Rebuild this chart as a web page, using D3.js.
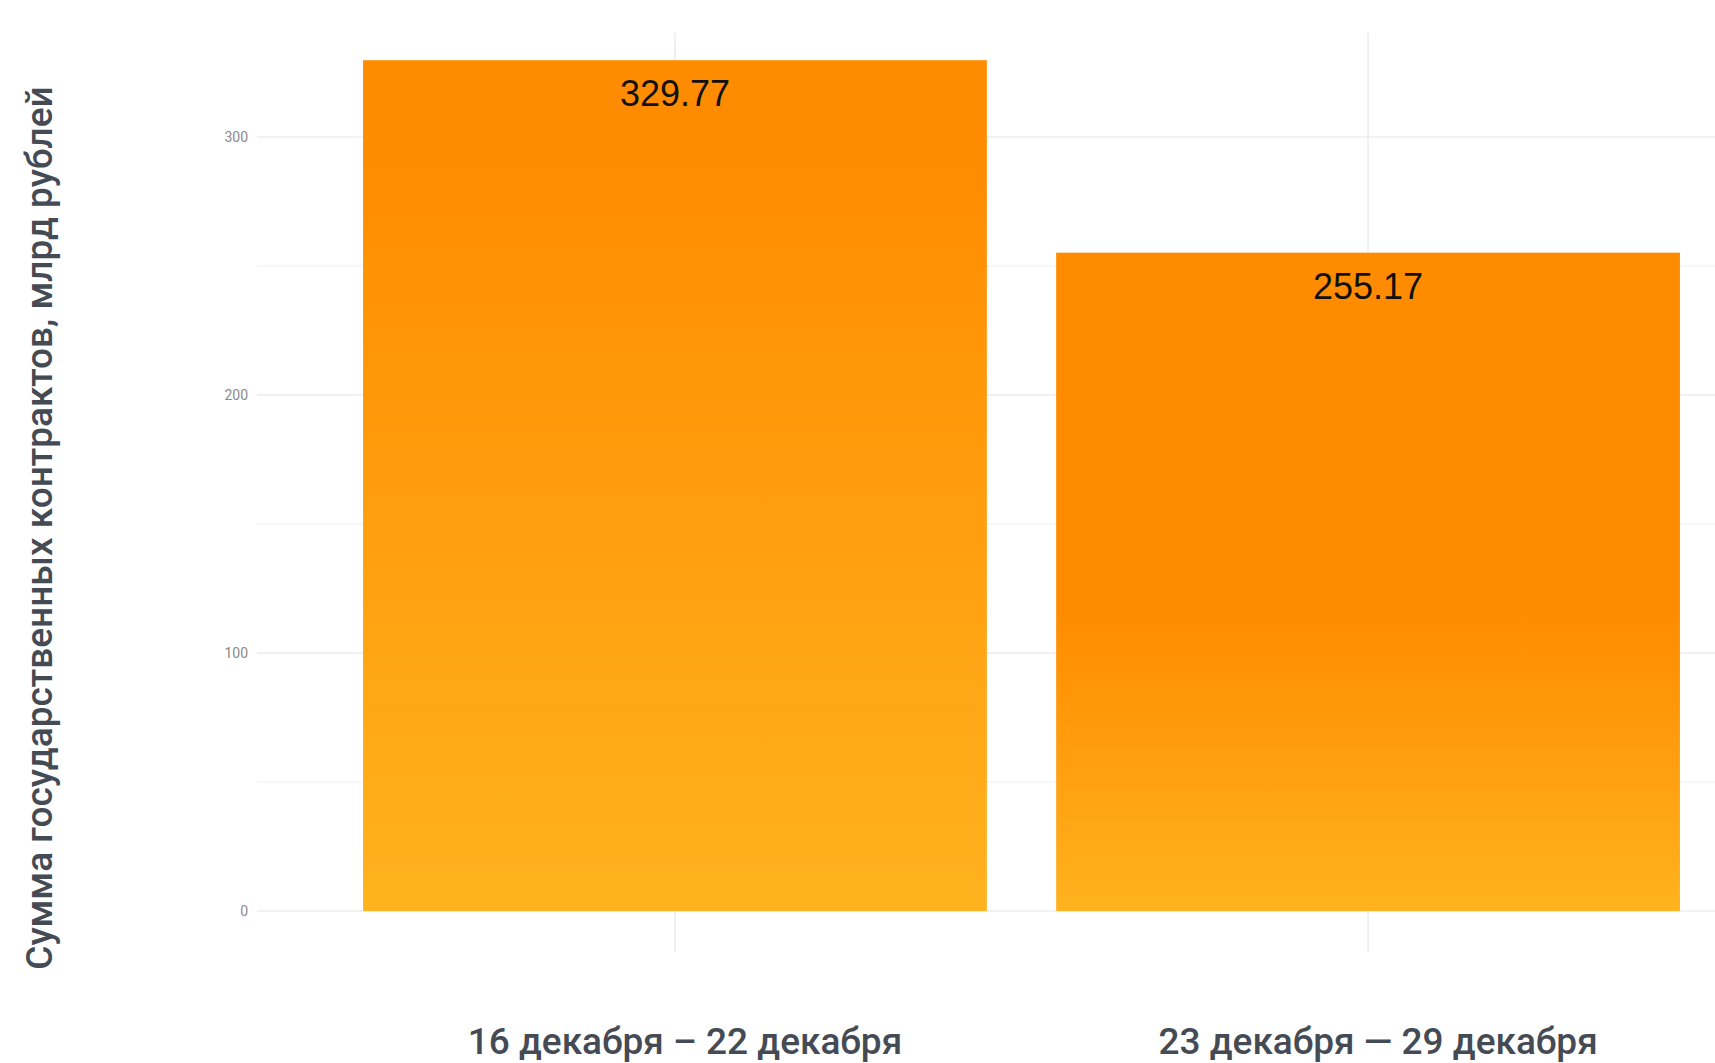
<!DOCTYPE html>
<html>
<head>
<meta charset="utf-8">
<script src="https://cdn.jsdelivr.net/npm/d3@7"></script>
<style>
  html, body { margin: 0; padding: 0; background: #fff; overflow: hidden; }
</style>
</head>
<body>
<div id="container"></div>
<script>
const categories = ["16 декабря – 22 декабря", "23 декабря — 29 декабря"];
const values = [329.77, 255.17];
const yTicks = [0, 100, 200, 300];
const yGrid = [0, 50, 100, 150, 200, 250, 300];
const yTitle = "Сумма государственных контрактов, млрд рублей";

// where the solid orange stops and the fade to yellow starts, per bar
const fadeStart = [0.12, 0.55];

const width = 1715;
const height = 1063;

const x = d3.scaleBand()
  .domain(categories)
  .range([257, 1786])
  .paddingInner(0.1)
  .paddingOuter(0.153);

const y = d3.scaleLinear()
  .domain([0, 300])
  .range([911, 137]);

const svg = d3.create("svg")
  .attr("width", width)
  .attr("height", height);

const defs = svg.append("defs");
categories.forEach((c, i) => {
  const g = defs.append("linearGradient")
    .attr("id", `grad${i}`)
    .attr("x1", 0).attr("y1", 0)
    .attr("x2", 0).attr("y2", 1);
  g.append("stop").attr("offset", 0).attr("stop-color", "#ff8c00");
  g.append("stop").attr("offset", fadeStart[i]).attr("stop-color", "#ff8c00");
  g.append("stop").attr("offset", 1).attr("stop-color", "#ffb21f");
});

// grid
svg.append("g")
  .selectAll("line")
  .data(yGrid)
  .join("line")
  .attr("x1", 257)
  .attr("x2", width)
  .attr("y1", d => y(d))
  .attr("y2", d => y(d))
  .attr("stroke", d => d % 100 === 0 ? "#ececec" : "#f4f4f4")
  .attr("stroke-width", 1.5);

svg.append("g")
  .selectAll("line")
  .data(categories)
  .join("line")
  .attr("x1", d => x(d) + x.bandwidth() / 2)
  .attr("x2", d => x(d) + x.bandwidth() / 2)
  .attr("y1", 33)
  .attr("y2", 952)
  .attr("stroke", "#ececec")
  .attr("stroke-width", 1.5);

// y axis
const yAxis = svg.append("g")
  .attr("transform", "translate(248,0)")
  .call(d3.axisLeft(y).tickValues(yTicks).tickSize(0).tickPadding(0));
yAxis.select(".domain").remove();
yAxis.selectAll("text")
  .attr("font-family", "Roboto, sans-serif")
  .attr("font-size", 14)
  .attr("fill", "#8a8a8a");

// bars
svg.append("g")
  .selectAll("rect")
  .data(values)
  .join("rect")
  .attr("x", (d, i) => x(categories[i]))
  .attr("y", d => y(d))
  .attr("width", x.bandwidth())
  .attr("height", d => y(0) - y(d))
  .attr("fill", (d, i) => `url(#grad${i})`);

// value labels
svg.append("g")
  .selectAll("text")
  .data(values)
  .join("text")
  .attr("x", (d, i) => x(categories[i]) + x.bandwidth() / 2)
  .attr("y", d => y(d) + 46)
  .attr("text-anchor", "middle")
  .attr("font-family", "'Liberation Sans', Arial, sans-serif")
  .attr("font-size", 36)
  .attr("fill", "#111")
  .text(d => d.toFixed(2));

// x axis labels
const xAxis = svg.append("g")
  .attr("transform", "translate(10,1054)")
  .call(d3.axisBottom(x).tickSize(0).tickPadding(0));
xAxis.select(".domain").remove();
xAxis.selectAll("text")
  .attr("dy", 0)
  .attr("font-family", "Roboto, sans-serif")
  .attr("font-weight", 500)
  .attr("font-size", 37)
  .attr("fill", "#454b54");

// y title
svg.append("text")
  .attr("transform", "translate(52,528) rotate(-90)")
  .attr("text-anchor", "middle")
  .attr("font-family", "Roboto, sans-serif")
  .attr("font-weight", 500)
  .attr("font-size", 37)
  .attr("fill", "#454b54")
  .text(yTitle);

d3.select("#container").append(() => svg.node());
</script>
</body>
</html>
